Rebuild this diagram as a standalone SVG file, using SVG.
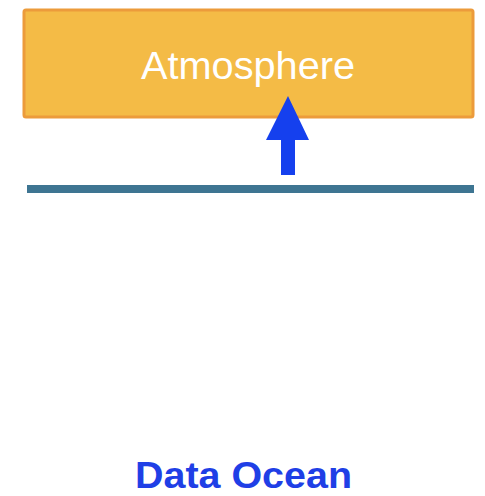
<svg xmlns="http://www.w3.org/2000/svg" width="485" height="496" viewBox="0 0 485 496">
  <style>
    .box { fill: #f4bb46; stroke: #ec9b3b; stroke-width: 3; }
    .label { font-family: "Liberation Sans", Arial, sans-serif; fill: #ffffff; font-size: 38px; }
    .title { font-family: "Liberation Sans", Arial, sans-serif; font-weight: bold; fill: #1f3fe6; font-size: 37px; }
    .arrow { fill: #1540ee; }
    .surface { stroke: #3e7592; stroke-width: 8; }
  </style>
  <rect width="485" height="496" fill="#ffffff"/>
  <g id="atmosphere">
    <rect class="box" x="24" y="10" width="449" height="107" rx="2"/>
    <text class="label" x="141" y="79" textLength="214" lengthAdjust="spacingAndGlyphs">Atmosphere</text>
  </g>
  <g id="connectors">
    <polygon class="arrow" points="288,96 309,140 295,140 295,175 281,175 281,140 266,140"/>
  </g>
  <g id="surface">
    <line class="surface" x1="27" y1="189" x2="474" y2="189"/>
  </g>
  <g id="data-ocean">
    <text class="title" x="135" y="488" textLength="217" lengthAdjust="spacingAndGlyphs">Data Ocean</text>
  </g>
</svg>
